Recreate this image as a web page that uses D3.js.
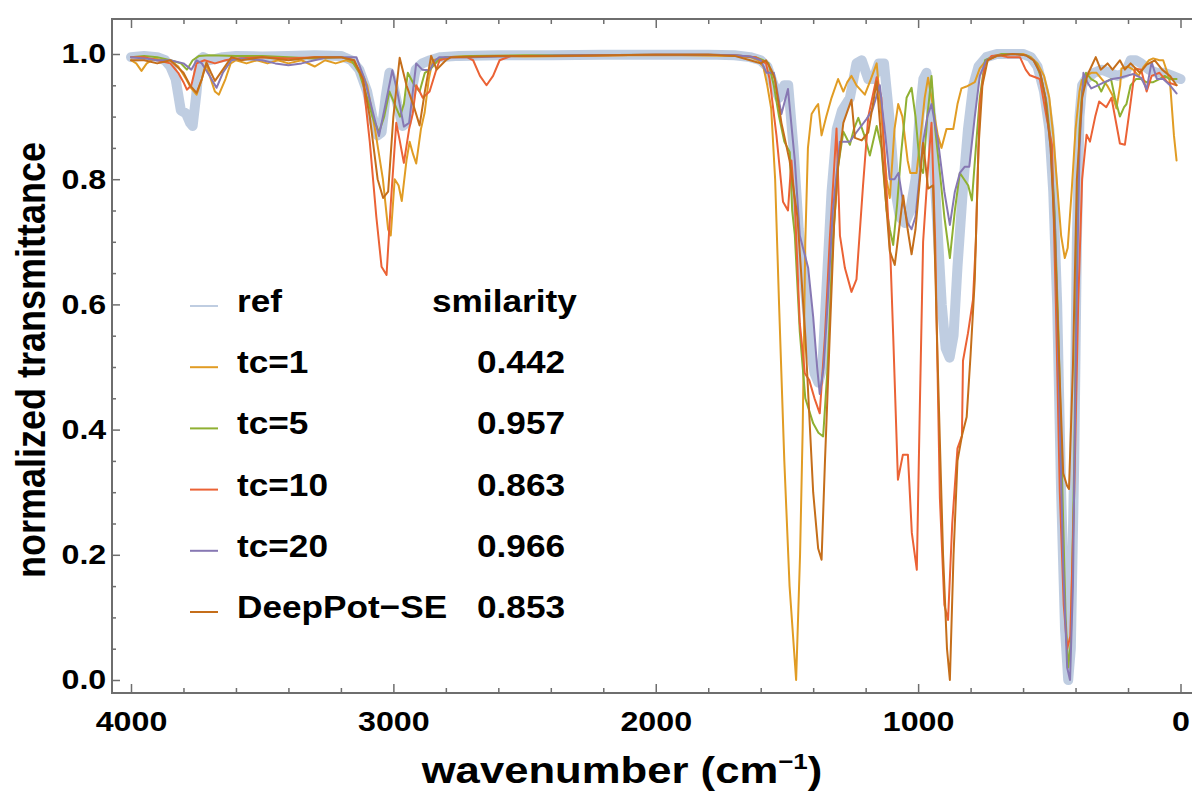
<!DOCTYPE html>
<html lang="en">
<head>
<meta charset="UTF-8">
<title>IR spectra</title>
<script src="https://d3js.org/d3.v7.min.js"></script>
<style>
  body { margin: 0; background: #fff; }
  svg { display: block; font-family: "Liberation Sans", Arial, sans-serif; font-weight: bold; }
  .frame { stroke: #6e6e6e; stroke-width: 2; fill: none; }
  .spec { fill: none; stroke-linejoin: round; stroke-linecap: round; }
</style>
</head>
<body>
<svg id="chart" width="1192" height="792"></svg>
<script>
// spectra as [wavenumber, normalized transmittance]
const refSpec = [[4000,0.995],[3950,0.997],[3900,0.995],[3870,0.99],[3850,0.98],[3830,0.96],[3810,0.91],[3790,0.905],[3775,0.89],[3765,0.885],[3750,0.94],[3740,0.99],[3725,0.995],[3700,0.99],[3650,0.995],[3600,0.997],[3500,0.996],[3400,0.997],[3300,0.998],[3200,0.997],[3160,0.99],[3130,0.975],[3100,0.94],[3080,0.9],[3060,0.87],[3045,0.875],[3030,0.93],[3015,0.97],[3000,0.95],[2985,0.92],[2965,0.885],[2950,0.89],[2935,0.93],[2915,0.975],[2890,0.985],[2860,0.99],[2820,0.995],[2750,0.997],[2600,0.998],[2400,0.998],[2200,0.999],[2000,0.999],[1800,0.999],[1700,0.998],[1640,0.995],[1600,0.99],[1575,0.98],[1550,0.95],[1530,0.93],[1510,0.95],[1495,0.95],[1475,0.85],[1455,0.72],[1430,0.62],[1410,0.53],[1395,0.49],[1380,0.475],[1365,0.5],[1350,0.62],[1330,0.78],[1310,0.88],[1290,0.91],[1260,0.93],[1235,0.985],[1215,0.99],[1190,0.96],[1170,0.96],[1150,0.985],[1130,0.985],[1110,0.9],[1090,0.79],[1070,0.74],[1050,0.73],[1030,0.75],[1010,0.8],[995,0.9],[980,0.96],[968,0.97],[950,0.9],[930,0.75],[910,0.6],[895,0.53],[880,0.515],[865,0.55],[850,0.66],[830,0.78],[810,0.88],[790,0.95],[770,0.98],[740,0.995],[700,1.0],[650,1.0],[600,1.0],[570,0.995],[545,0.98],[520,0.94],[500,0.88],[485,0.78],[470,0.6],[455,0.3],[440,0.08],[428,0.0],[418,0.05],[405,0.35],[395,0.7],[385,0.9],[375,0.95],[360,0.96],[330,0.97],[300,0.975],[270,0.97],[240,0.965],[210,0.97],[190,0.99],[170,0.99],[150,0.985],[120,0.975],[90,0.97],[60,0.97],[30,0.965],[0,0.96]];

const tc1Spec = [[4000,0.99],[3980,0.985],[3960,0.973],[3940,0.985],[3910,0.993],[3880,0.99],[3850,0.99],[3820,0.98],[3790,0.96],[3770,0.945],[3750,0.935],[3730,0.96],[3715,0.985],[3700,0.965],[3680,0.94],[3665,0.935],[3640,0.96],[3620,0.985],[3600,0.99],[3560,0.985],[3520,0.99],[3480,0.985],[3440,0.99],[3400,0.985],[3350,0.99],[3300,0.98],[3260,0.99],[3220,0.985],[3180,0.99],[3150,0.985],[3120,0.97],[3100,0.95],[3070,0.88],[3040,0.8],[3020,0.72],[3010,0.71],[2995,0.8],[2980,0.79],[2968,0.765],[2950,0.83],[2938,0.86],[2925,0.84],[2913,0.825],[2895,0.88],[2881,0.906],[2865,0.96],[2850,0.99],[2800,0.995],[2700,0.997],[2500,0.996],[2300,0.997],[2100,0.998],[1900,0.998],[1700,0.997],[1640,0.995],[1610,0.99],[1590,0.98],[1575,0.95],[1560,0.913],[1545,0.8],[1530,0.6],[1510,0.35],[1490,0.15],[1465,0.0],[1450,0.2],[1440,0.4],[1430,0.7],[1420,0.85],[1406,0.904],[1390,0.915],[1381,0.92],[1368,0.87],[1350,0.9],[1330,0.93],[1305,0.96],[1285,0.94],[1270,0.955],[1254,0.965],[1235,0.95],[1203,0.935],[1180,0.96],[1158,0.985],[1140,0.9],[1120,0.8],[1108,0.77],[1090,0.88],[1076,0.92],[1060,0.9],[1040,0.83],[1030,0.81],[1006,0.81],[990,0.87],[975,0.93],[962,0.962],[945,0.92],[925,0.87],[911,0.85],[892,0.88],[866,0.88],[850,0.92],[835,0.945],[816,0.948],[784,0.955],[765,0.977],[740,0.99],[710,0.995],[680,1.0],[640,1.0],[600,1.0],[570,0.995],[545,0.985],[520,0.965],[500,0.93],[485,0.87],[470,0.79],[455,0.71],[441,0.674],[430,0.69],[415,0.78],[400,0.88],[385,0.94],[376,0.958],[360,0.965],[340,0.97],[320,0.97],[300,0.96],[280,0.95],[260,0.935],[244,0.913],[230,0.95],[225,0.977],[200,0.98],[180,0.975],[160,0.965],[140,0.98],[120,0.99],[104,0.993],[80,0.99],[66,0.99],[50,0.97],[40,0.955],[25,0.87],[15,0.83]];

const tc5Spec = [[4000,0.995],[3950,0.997],[3900,0.995],[3850,0.99],[3810,0.985],[3787,0.975],[3765,0.99],[3740,0.997],[3700,0.998],[3600,0.997],[3500,0.997],[3400,0.995],[3300,0.993],[3200,0.995],[3160,0.99],[3130,0.97],[3100,0.93],[3080,0.9],[3055,0.875],[3035,0.9],[3015,0.94],[2995,0.92],[2975,0.9],[2960,0.92],[2945,0.97],[2920,0.95],[2900,0.94],[2880,0.97],[2860,0.975],[2830,0.99],[2800,0.995],[2700,0.997],[2500,0.998],[2300,0.998],[2000,0.999],[1800,0.999],[1700,0.998],[1620,0.995],[1590,0.99],[1570,0.985],[1550,0.95],[1530,0.9],[1510,0.86],[1489,0.843],[1480,0.75],[1470,0.711],[1451,0.556],[1430,0.45],[1400,0.41],[1380,0.395],[1362,0.389],[1345,0.5],[1325,0.7],[1305,0.82],[1285,0.876],[1260,0.855],[1245,0.88],[1228,0.898],[1205,0.87],[1184,0.838],[1158,0.885],[1140,0.85],[1120,0.75],[1108,0.72],[1095,0.695],[1080,0.76],[1065,0.84],[1044,0.93],[1025,0.946],[1010,0.9],[993,0.82],[981,0.81],[965,0.9],[949,0.965],[935,0.88],[917,0.81],[900,0.74],[879,0.674],[860,0.75],[841,0.81],[825,0.8],[809,0.79],[795,0.766],[780,0.85],[765,0.93],[745,0.99],[710,0.997],[680,1.0],[620,1.0],[580,0.997],[550,0.985],[530,0.96],[510,0.92],[495,0.86],[480,0.75],[465,0.55],[450,0.3],[438,0.1],[428,0.02],[418,0.06],[405,0.35],[395,0.7],[385,0.88],[375,0.94],[360,0.97],[340,0.96],[320,0.955],[302,0.94],[285,0.955],[265,0.96],[250,0.93],[231,0.9],[215,0.915],[206,0.92],[190,0.95],[170,0.96],[150,0.96],[130,0.955],[104,0.955],[80,0.96],[60,0.965],[40,0.96],[15,0.96]];

const tc10Spec = [[4000,0.995],[3950,0.995],[3900,0.99],[3850,0.985],[3820,0.97],[3800,0.955],[3787,0.943],[3770,0.95],[3750,0.985],[3720,0.99],[3680,0.985],[3640,0.99],[3600,0.993],[3500,0.995],[3400,0.993],[3300,0.995],[3200,0.995],[3150,0.99],[3116,0.96],[3090,0.86],[3065,0.74],[3045,0.66],[3026,0.647],[3010,0.76],[2989,0.89],[2975,0.86],[2960,0.826],[2940,0.88],[2926,0.905],[2913,0.95],[2900,0.94],[2888,0.93],[2862,0.94],[2840,0.97],[2824,0.99],[2780,0.995],[2720,0.995],[2696,0.99],[2670,0.965],[2645,0.95],[2620,0.965],[2595,0.99],[2550,0.997],[2400,0.997],[2200,0.998],[2000,0.999],[1800,0.999],[1700,0.998],[1620,0.995],[1580,0.985],[1566,0.96],[1540,0.87],[1515,0.764],[1496,0.75],[1483,0.83],[1470,0.76],[1451,0.57],[1432,0.49],[1415,0.479],[1395,0.45],[1375,0.426],[1355,0.55],[1336,0.71],[1311,0.881],[1298,0.71],[1279,0.658],[1254,0.62],[1235,0.64],[1210,0.79],[1190,0.9],[1158,0.963],[1140,0.93],[1120,0.78],[1105,0.67],[1095,0.55],[1077,0.32],[1058,0.36],[1039,0.36],[1024,0.235],[1005,0.176],[993,0.447],[981,0.7],[962,0.82],[949,0.89],[935,0.7],[917,0.29],[900,0.12],[886,0.096],[870,0.25],[850,0.37],[833,0.39],[829,0.51],[810,0.554],[791,0.607],[780,0.7],[776,0.76],[765,0.92],[745,0.985],[720,0.997],[690,0.998],[660,0.995],[640,0.995],[612,0.995],[590,0.975],[574,0.966],[536,0.96],[510,0.898],[490,0.855],[475,0.6],[460,0.3],[445,0.12],[432,0.05],[420,0.07],[405,0.3],[390,0.6],[375,0.8],[358,0.871],[345,0.86],[325,0.9],[310,0.924],[283,0.915],[263,0.93],[237,0.871],[231,0.857],[212,0.855],[193,0.913],[173,0.977],[150,0.975],[129,0.94],[110,0.965],[80,0.97],[50,0.955],[15,0.95]];

const tc20Spec = [[4000,0.995],[3950,0.993],[3900,0.99],[3850,0.99],[3800,0.985],[3770,0.975],[3750,0.99],[3730,0.985],[3700,0.965],[3674,0.946],[3650,0.97],[3617,0.99],[3580,0.993],[3500,0.99],[3450,0.985],[3400,0.982],[3350,0.985],[3300,0.99],[3250,0.995],[3200,0.995],[3141,0.995],[3110,0.96],[3080,0.91],[3055,0.869],[3030,0.92],[3004,0.974],[2985,0.94],[2960,0.884],[2940,0.89],[2913,0.985],[2890,0.975],[2862,0.974],[2840,0.99],[2824,0.995],[2700,0.995],[2500,0.997],[2300,0.998],[2000,0.999],[1800,0.999],[1700,0.998],[1640,0.996],[1600,0.99],[1578,0.97],[1550,0.97],[1521,0.904],[1496,0.944],[1470,0.83],[1451,0.71],[1419,0.658],[1400,0.58],[1385,0.5],[1375,0.457],[1360,0.5],[1345,0.6],[1325,0.75],[1298,0.86],[1260,0.86],[1235,0.875],[1197,0.896],[1175,0.91],[1146,0.95],[1125,0.87],[1108,0.8],[1090,0.8],[1075,0.81],[1060,0.77],[1040,0.73],[1025,0.72],[1010,0.74],[981,0.86],[965,0.9],[949,0.92],[924,0.86],[900,0.78],[879,0.727],[860,0.78],[841,0.81],[822,0.82],[805,0.82],[784,0.9],[765,0.965],[740,0.99],[700,0.997],[640,1.0],[590,0.998],[560,0.99],[535,0.97],[515,0.93],[495,0.85],[478,0.72],[462,0.45],[447,0.18],[432,0.02],[421,0.0],[410,0.15],[398,0.55],[385,0.85],[370,0.97],[355,0.955],[340,0.945],[315,0.95],[290,0.955],[260,0.96],[231,0.962],[206,0.965],[180,0.968],[150,0.962],[129,0.944],[110,0.987],[90,0.96],[66,0.96],[40,0.95],[15,0.937]];

const deepPotSpec = [[4000,0.99],[3950,0.99],[3900,0.985],[3850,0.99],[3800,0.97],[3775,0.95],[3750,0.938],[3730,0.96],[3712,0.986],[3695,0.97],[3680,0.957],[3650,0.975],[3617,0.995],[3580,0.99],[3500,0.995],[3400,0.99],[3300,0.995],[3200,0.995],[3150,0.99],[3116,0.96],[3090,0.9],[3060,0.8],[3039,0.77],[3020,0.78],[3000,0.9],[2976,0.994],[2950,0.95],[2925,0.92],[2900,0.886],[2880,0.94],[2856,0.997],[2835,0.975],[2800,0.99],[2780,0.995],[2600,0.997],[2400,0.997],[2200,0.998],[2000,0.999],[1800,0.999],[1700,0.997],[1640,0.99],[1600,0.985],[1580,0.99],[1560,0.975],[1546,0.96],[1521,0.89],[1490,0.83],[1460,0.74],[1430,0.55],[1400,0.3],[1381,0.21],[1368,0.192],[1355,0.35],[1336,0.559],[1320,0.73],[1305,0.82],[1285,0.89],[1254,0.927],[1241,0.866],[1215,0.862],[1190,0.875],[1158,0.956],[1140,0.86],[1120,0.75],[1108,0.685],[1089,0.663],[1057,0.774],[1040,0.72],[1025,0.68],[1010,0.72],[981,0.858],[962,0.785],[943,0.79],[925,0.5],[905,0.2],[890,0.05],[879,0.0],[865,0.2],[850,0.35],[833,0.39],[815,0.42],[800,0.52],[784,0.64],[770,0.85],[755,0.95],[735,0.99],[700,0.997],[640,1.0],[590,0.998],[560,0.99],[535,0.97],[515,0.93],[495,0.85],[478,0.7],[462,0.5],[447,0.33],[432,0.31],[425,0.305],[410,0.5],[395,0.8],[375,0.93],[355,0.966],[323,0.995],[304,0.975],[278,0.985],[259,0.975],[231,0.99],[212,0.975],[190,0.985],[155,0.97],[129,0.983],[98,0.99],[70,0.975],[40,0.965],[15,0.95]];

const seriesNames = ["ref", "tc=1", "tc=5", "tc=10", "tc=20", "DeepPot\u2212SE"];
const similarity = ["smilarity", "0.442", "0.957", "0.863", "0.966", "0.853"];
const xTicks = [4000, 3000, 2000, 1000, 0];
const yTicks = [0, 0.2, 0.4, 0.6, 0.8, 1.0];

const spectra = [refSpec, tc1Spec, tc5Spec, tc10Spec, tc20Spec, deepPotSpec];
const colors = ["#5e81b5", "#e19c24", "#8fb032", "#eb6235", "#8778b3", "#c56e1a"];

const svg = d3.select("#chart");

// plot frame
const frame = { left: 112, top: 19, right: 1200, bottom: 693 };
const x = d3.scaleLinear().domain([4000, 0]).range([131, 1180.5]);
const y = d3.scaleLinear().domain([0, 1]).range([680, 54]);

const line = d3.line().x(d => x(d[0])).y(d => y(d[1]));

// spectra, ref as a wide translucent band underneath
svg.append("g")
    .selectAll("path")
    .data(spectra)
    .enter().append("path")
    .attr("class", "spec")
    .attr("d", line)
    .attr("stroke", (d, i) => colors[i])
    .attr("stroke-opacity", (d, i) => i === 0 ? 0.4 : 1)
    .attr("stroke-width", (d, i) => i === 0 ? 10 : 2);

// frame and ticks (ticks point inward)
svg.append("path")
    .attr("class", "frame")
    .attr("d", `M${frame.right},${frame.top} H${frame.left} V${frame.bottom} H${frame.right}`);

const xMinor = d3.range(4000, -1, -200).filter(v => v % 1000 !== 0);
const yMinor = d3.range(0.05, 1.0, 0.05).filter(v => Math.abs(v * 5 - Math.round(v * 5)) > 1e-6);

function styleLabels(g) {
    g.selectAll("text")
        .attr("font-size", 28)
        .attr("fill", "#000")
        .attr("font-family", "Liberation Sans, Arial, sans-serif")
        .attr("font-weight", "bold")
        .attr("transform", "scale(1.15,1)");
}

const gx = svg.append("g").attr("transform", `translate(0,${frame.bottom})`)
    .call(d3.axisBottom(x).tickValues(xTicks).tickFormat(d3.format("d")).tickSize(-9).tickPadding(18));
gx.select(".domain").remove();
styleLabels(gx);

const gxMinor = svg.append("g").attr("transform", `translate(0,${frame.bottom})`)
    .call(d3.axisBottom(x).tickValues(xMinor).tickSize(-5).tickFormat(""));
gxMinor.select(".domain").remove();

const gxTop = svg.append("g").attr("transform", `translate(0,${frame.top})`)
    .call(d3.axisTop(x).tickValues(xTicks).tickSize(-9).tickFormat(""));
gxTop.select(".domain").remove();
const gxTopMinor = svg.append("g").attr("transform", `translate(0,${frame.top})`)
    .call(d3.axisTop(x).tickValues(xMinor).tickSize(-5).tickFormat(""));
gxTopMinor.select(".domain").remove();

const gy = svg.append("g").attr("transform", `translate(${frame.left},0)`)
    .call(d3.axisLeft(y).tickValues(yTicks).tickFormat(d3.format(".1f")).tickSize(-8).tickPadding(5));
gy.select(".domain").remove();
styleLabels(gy);

const gyMinor = svg.append("g").attr("transform", `translate(${frame.left},0)`)
    .call(d3.axisLeft(y).tickValues(yMinor).tickSize(-4).tickFormat(""));
gyMinor.select(".domain").remove();

svg.selectAll(".tick line").attr("stroke", "#6e6e6e").attr("stroke-width", 1.5);

// axis titles
svg.append("text")
    .attr("transform", "translate(622,783) scale(1.18,1)")
    .attr("text-anchor", "middle")
    .attr("font-size", 37)
    .html('wavenumber (cm<tspan dy="-14" font-size="22">\u22121</tspan><tspan dy="14">)</tspan>');

svg.append("text")
    .attr("transform", "translate(45,360) scale(1.15,1) rotate(-90)")
    .attr("text-anchor", "middle")
    .attr("font-size", 36)
    .text("normalized transmittance");

// legend with similarity column
const legend = svg.append("g");
const rowY = i => 312 + i * 61.2;
seriesNames.forEach((name, i) => {
    legend.append("line")
        .attr("x1", 190).attr("x2", 218)
        .attr("y1", rowY(i) - 6).attr("y2", rowY(i) - 6)
        .attr("stroke", colors[i])
        .attr("stroke-opacity", i === 0 ? 0.4 : 1)
        .attr("stroke-width", 2);
    legend.append("text")
        .attr("transform", `translate(237,${rowY(i)}) scale(1.1,1)`)
        .attr("font-size", 32)
        .text(name);
    legend.append("text")
        .attr("transform", `translate(${i === 0 ? 432 : 477},${rowY(i)}) scale(1.1,1)`)
        .attr("font-size", 32)
        .text(similarity[i]);
});
</script>
</body>
</html>
